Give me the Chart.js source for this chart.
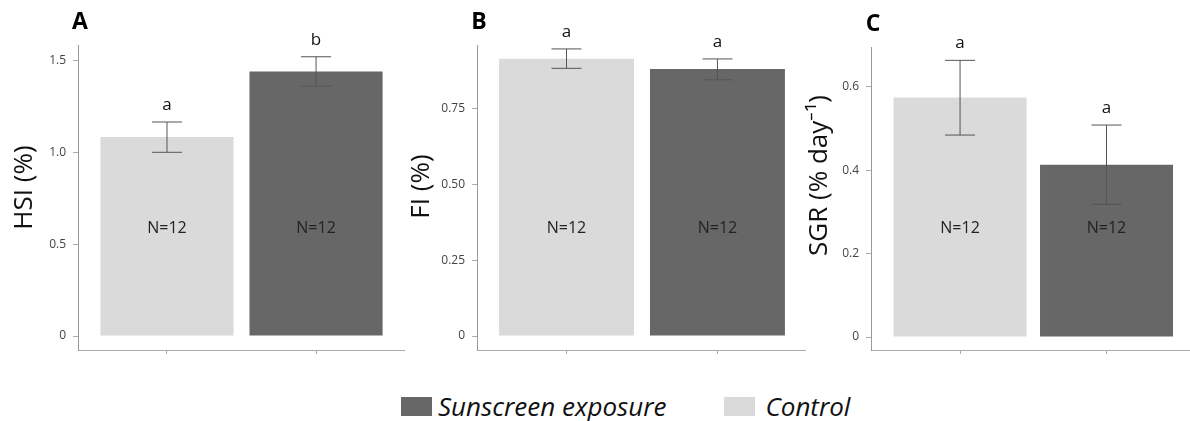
<!DOCTYPE html>
<html>
<head>
<meta charset="utf-8">
<script src="https://cdn.jsdelivr.net/npm/chart.js@4"></script>
<style>
  body { margin: 0; background: #fff; font-family: 'Open Sans', sans-serif; }
  #wrap { position: relative; width: 1190px; height: 421px; }
  canvas { position: absolute; top: 0; }
  #legend { position: absolute; top: 388px; left: 401px; display: flex; align-items: center;
            font-style: italic; font-size: 26px; color: #111; }
  .box { width: 31px; height: 19px; margin-right: 6px; }
</style>
</head>
<body>
<div id="wrap">
  <canvas id="chartA" width="410" height="370" style="left:0"></canvas>
  <canvas id="chartB" width="410" height="370" style="left:400px"></canvas>
  <canvas id="chartC" width="400" height="370" style="left:790px"></canvas>
  <div id="legend">
    <div class="box" style="background:#676767"></div><span>Sunscreen exposure</span>
    <div class="box" style="background:#dadada; margin-left:58px; margin-right:10px"></div><span>Control</span>
  </div>
</div>
<script>
// groepen: controle en blootgesteld
const groepen = ['Control', 'Sunscreen exposure'];
const kleuren = ['#dadada', '#676767'];
const nLabels = ['N=12', 'N=12'];

// A: HSI
const hsiGem = [1.083, 1.44];
const hsiLaag = [1.0, 1.36];
const hsiHoog = [1.165, 1.52];
const hsiLetters = ['a', 'b'];
const hsiTicks = [0, 0.5, 1.0, 1.5];
const hsiTickLabels = ['0', '0.5', '1.0', '1.5'];

// B: FI
const fiGem = [0.916, 0.882];
const fiLaag = [0.884, 0.846];
const fiHoog = [0.948, 0.915];
const fiLetters = ['a', 'a'];
const fiTicks = [0, 0.25, 0.5, 0.75];
const fiTickLabels = ['0', '0.25', '0.50', '0.75'];

// C: SGR
const sgrGem = [0.574, 0.413];
const sgrLaag = [0.484, 0.318];
const sgrHoog = [0.663, 0.508];
const sgrLetters = ['a', 'a'];
const sgrTicks = [0, 0.2, 0.4, 0.6];
const sgrTickLabels = ['0', '0.2', '0.4', '0.6'];

// foutbalken, letters, N-tekst en astitel
const extraPlugin = {
    id: 'extra',
    afterDatasetsDraw(chart, args, opts) {
        const ctx = chart.ctx;
        const xs = chart.scales.x, ys = chart.scales.y;
        const ca = chart.chartArea;
        ctx.save();
        opts.gem.forEach((v, i) => {
            const x = xs.getPixelForValue(i + 1);
            const yl = ys.getPixelForValue(opts.laag[i]);
            const yh = ys.getPixelForValue(opts.hoog[i]);
            ctx.strokeStyle = '#555';
            ctx.lineWidth = 1;
            ctx.beginPath();
            ctx.moveTo(x, yl); ctx.lineTo(x, yh);
            ctx.moveTo(x - 15, yl); ctx.lineTo(x + 15, yl);
            ctx.moveTo(x - 15, yh); ctx.lineTo(x + 15, yh);
            ctx.stroke();
            ctx.fillStyle = '#111';
            ctx.textAlign = 'center';
            ctx.textBaseline = 'middle';
            ctx.font = '17px "Open Sans"';
            ctx.fillText(opts.letters[i], x, yh - 17);
            ctx.font = '16px "Open Sans"';
            ctx.fillStyle = '#222';
            ctx.fillText(nLabels[i], x, ca.top + (ca.bottom - ca.top) * 0.6);
        });
        ctx.fillStyle = '#000';
        ctx.font = 'bold 23px "Open Sans"';
        ctx.fillText(opts.paneel, ca.left + 2, ca.top - 23);
        // astitel
        ctx.translate(ca.left + opts.titelDx, (ca.top + ca.bottom) / 2 + opts.titelDy);
        ctx.rotate(-Math.PI / 2);
        ctx.font = '26px "Open Sans"';
        ctx.fillStyle = '#111';
        ctx.fillText(opts.titel, 0, 0);
        ctx.restore();
    }
};

function maakGrafiek(id, cfg) {
    return new Chart(document.getElementById(id), {
        type: 'bar',
        data: {
            datasets: [{
                data: cfg.gem.map((v, i) => ({ x: i + 1, y: v })),
                backgroundColor: kleuren,
                barPercentage: cfg.barPct,
                categoryPercentage: 1
            }]
        },
        options: {
            responsive: false,
            animation: false,
            layout: { padding: { top: cfg.top, right: cfg.rechts, left: 0, bottom: 0 } },
            plugins: {
                legend: { display: false },
                tooltip: { enabled: false },
                extra: cfg
            },
            scales: {
                x: {
                    type: 'linear',
                    offset: false,
                    min: cfg.xMin, max: cfg.xMax,
                    afterBuildTicks: s => { s.ticks = [{ value: 1 }, { value: 2 }]; },
                    afterFit: s => { s.height = 20; },
                    ticks: { callback: () => '' },
                    grid: { offset: false, drawOnChartArea: false, tickLength: 4, color: '#aaa' },
                    border: { color: '#aaa' }
                },
                y: {
                    min: cfg.yMin, max: cfg.yMax,
                    afterBuildTicks: s => { s.ticks = cfg.ticks.map(v => ({ value: v })); },
                    afterFit: s => { s.width = cfg.asBreedte; },
                    ticks: {
                        callback: (v, i) => cfg.tickLabels[i],
                        font: { family: 'Open Sans', size: 12 },
                        color: '#444',
                        padding: 7
                    },
                    grid: { drawOnChartArea: false, tickLength: 5, color: '#aaa' },
                    border: { color: '#999' }
                }
            }
        },
        plugins: [extraPlugin]
    });
}

maakGrafiek('chartA', {
    paneel: 'A', titel: 'HSI (%)', gem: hsiGem, laag: hsiLaag, hoog: hsiHoog, letters: hsiLetters,
    ticks: hsiTicks, tickLabels: hsiTickLabels, yMin: -0.076, yMax: 1.584,
    xMin: 0.403, xMax: 2.59, barPct: 0.893, top: 45, rechts: 6, asBreedte: 78,
    titelDx: -53, titelDy: -10
});
maakGrafiek('chartB', {
    paneel: 'B', titel: 'FI (%)', gem: fiGem, laag: fiLaag, hoog: fiHoog, letters: fiLetters,
    ticks: fiTicks, tickLabels: fiTickLabels, yMin: -0.046, yMax: 0.961,
    xMin: 0.407, xMax: 2.58, barPct: 0.894, top: 45, rechts: 5, asBreedte: 77,
    titelDx: -55, titelDy: -11
});
maakGrafiek('chartC', {
    paneel: 'C', titel: 'SGR (% day⁻¹)', gem: sgrGem, laag: sgrLaag, hoog: sgrHoog, letters: sgrLetters,
    ticks: sgrTicks, tickLabels: sgrTickLabels, yMin: -0.031, yMax: 0.695,
    xMin: 0.392, xMax: 2.57, barPct: 0.908, top: 47, rechts: 0, asBreedte: 81,
    titelDx: -51, titelDy: -23
});
</script>
</body>
</html>
